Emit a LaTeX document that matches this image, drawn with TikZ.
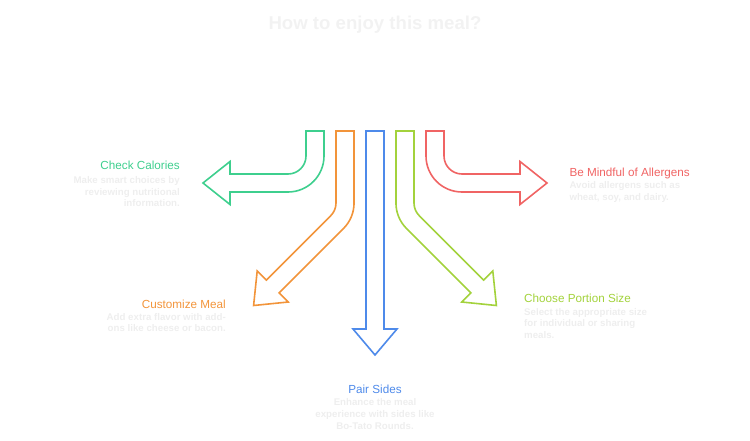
\documentclass[tikz,border=0pt]{standalone}
\usepackage{fontspec}
\setmainfont{Liberation Sans}
\usetikzlibrary{positioning}

\begin{document}
\begin{tikzpicture}[x=1pt,y=-1pt,
  barrow/.style={line width=1.6pt,line join=miter,fill=white},
  lab/.style={inner sep=0pt,font=\fontsize{11.7}{14}\selectfont},
  desc/.style={inner sep=0pt,text=cdesc,font=\fontsize{9.7}{11.6}\selectfont\bfseries}]
%
\useasboundingbox (0,0) rectangle (750,441);
%
\definecolor{ccal}{RGB}{62,207,142}
\definecolor{cmeal}{RGB}{242,148,58}
\definecolor{csides}{RGB}{78,138,234}
\definecolor{cportion}{RGB}{163,210,60}
\definecolor{callerg}{RGB}{240,100,100}
\definecolor{cdesc}{RGB}{238,238,238}
\definecolor{ctitle}{RGB}{242,242,242}
%
\node[inner sep=0pt,anchor=base,text=ctitle,font=\fontsize{18.6}{22}\selectfont\bfseries] (t) at (375,29.8) {How to enjoy this meal?};
%
\draw[barrow,draw=ccal] (306,131) -- (306,156) arc[start angle=0,end angle=90,radius=18] -- (230,174) -- (230,161.5) -- (203,183) -- (230,204.5) -- (230,192) -- (288,192) arc[start angle=90,end angle=0,radius=36] -- (324,131) -- cycle;
\draw[barrow,draw=cmeal] (336,131) -- (336,203) arc[start angle=0,end angle=45,radius=18] -- (266.4,280.1) -- (257.2,270.9) -- (253.6,305.5) -- (288.3,302.0) -- (279.1,292.8) -- (343.5,228.5) arc[start angle=45,end angle=0,radius=36] -- (354,131) -- cycle;
\draw[barrow,draw=csides] (366,131) -- (366,329) -- (353,329) -- (375,355) -- (397,329) -- (384,329) -- (384,131) -- cycle;
\draw[barrow,draw=cportion] (414,131) -- (414,203) arc[start angle=180,end angle=135,radius=18] -- (483.6,280.1) -- (492.8,270.9) -- (496.4,305.5) -- (461.7,302.0) -- (470.9,292.8) -- (406.5,228.5) arc[start angle=135,end angle=180,radius=36] -- (396,131) -- cycle;
\draw[barrow,draw=callerg] (444,131) -- (444,156) arc[start angle=180,end angle=90,radius=18] -- (520,174) -- (520,161.5) -- (547,183) -- (520,204.5) -- (520,192) -- (462,192) arc[start angle=90,end angle=180,radius=36] -- (426,131) -- cycle;
%
\node[lab,anchor=base east,text=ccal] (l0) at (180,169.8) {Check Calories};
\node[desc,anchor=north east,align=right] (d0) at (180,176.3) {Make smart choices by\\reviewing nutritional\\information.};
\node[lab,anchor=base east,text=cmeal] (l1) at (226,308.3) {Customize Meal};
\node[desc,anchor=north east,align=right] (d1) at (226,313) {Add extra flavor with add-\\ons like cheese or bacon.};
\node[lab,anchor=base,text=csides] (l2) at (375,393) {Pair Sides};
\node[desc,anchor=north,align=center] (d2) at (375,398.6) {Enhance the meal\\experience with sides like\\Bo-Tato Rounds.};
\node[lab,anchor=base west,text=cportion] (l3) at (524,302.3) {Choose Portion Size};
\node[desc,anchor=north west,align=left] (d3) at (524,308) {Select the appropriate size\\for individual or sharing\\meals.};
\node[lab,anchor=base west,text=callerg] (l4) at (569.3,176.7) {Be Mindful of Allergens};
\node[desc,anchor=north west,align=left] (d4) at (569.3,181.3) {Avoid allergens such as\\wheat, soy, and dairy.};
%
\end{tikzpicture}
\end{document}
